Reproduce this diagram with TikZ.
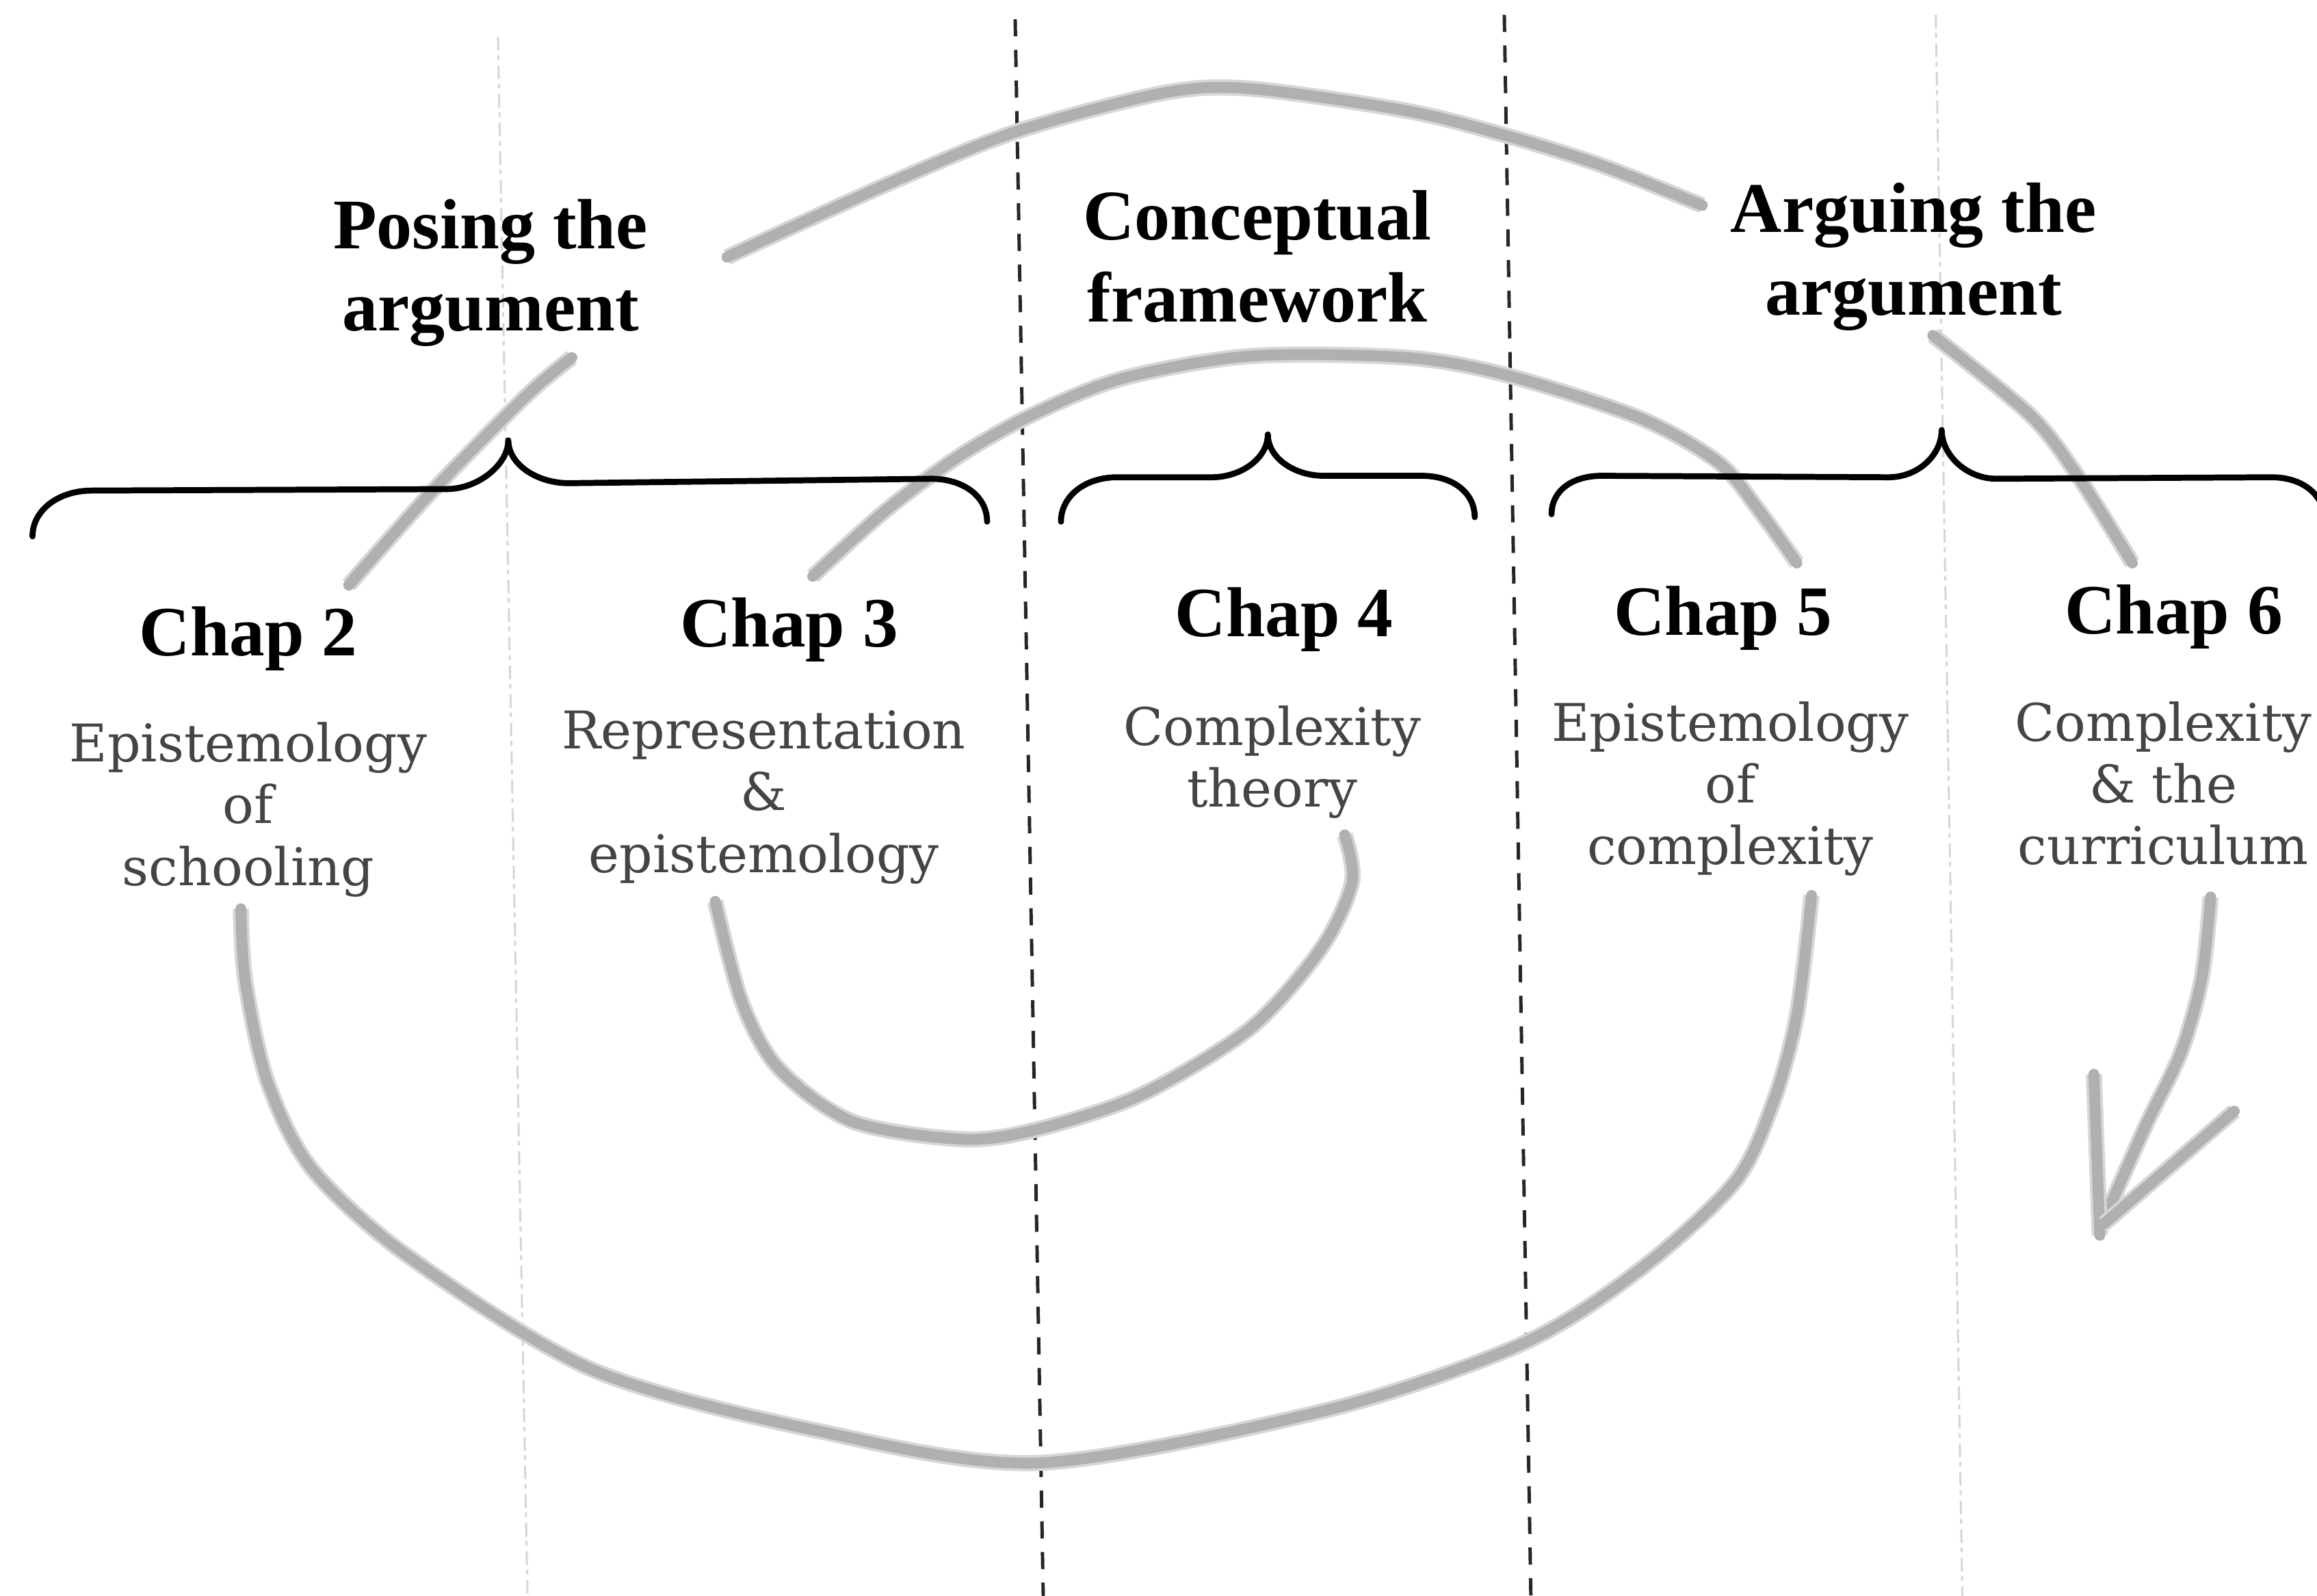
\documentclass[tikz,border=0pt]{standalone}
\usepackage{fontspec}
\setmainfont{DejaVu Serif}
\newfontfamily\headfont{Liberation Serif}

\definecolor{pencil}{RGB}{176,176,176}
\definecolor{pencilhaze}{RGB}{214,214,214}
\definecolor{bodyink}{RGB}{68,68,68}
\definecolor{guide}{RGB}{214,214,214}

\tikzset{
  heading/.style={font=\headfont\bfseries\fontsize{13.7}{15.9}\selectfont,
    align=center, anchor=north, inner sep=0pt},
  chaptitle/.style={font=\headfont\bfseries\fontsize{13.6}{16}\selectfont,
    anchor=north, inner sep=0pt},
  topic/.style={font=\fontsize{10}{11.9}\selectfont, text=bodyink,
    align=center, anchor=north, inner sep=0pt},
  bracket/.style={draw=black, line width=1.15pt, line cap=round, line join=round},
  divider/.style={draw=black!85, line width=0.65pt, dash pattern=on 3.3pt off 2.6pt},
  faintdivider/.style={draw=guide, line width=0.4pt,
    dash pattern=on 2.6pt off 0.9pt on 0.9pt off 1.1pt},
  trail/.style={draw=pencil, line width=2.1pt, line cap=round, line join=round,
    preaction={draw=pencilhaze, line width=3.1pt}},
}

\begin{document}
\begin{tikzpicture}[x=0.01cm, y=-0.01cm]
  \useasboundingbox (0,0) rectangle (1568,1080);
  \fill[white] (0,0) rectangle (1568,1080);
  \clip (0,0) rectangle (1568,1080);

  % column dividers
  \draw[faintdivider] (337,25) -- (357,1080);
  \draw[faintdivider] (1310,10) -- (1328,1080);
  \draw[divider] (687,13) -- (706,1080);
  \draw[divider] (1018,10) -- (1036,1080);

  % the spiral, from the centre outwards
  \draw[trail] plot[smooth] coordinates {(910,565) (915,597) (894,642) (846,696)
    (772,741) (703,764) (652,771) (577,759) (527,723) (502,678) (484,610)};
  \draw[trail] plot[smooth] coordinates {(550,390) (600,345) (650,308) (700,280)
    (760,256) (846,241) (952,242) (1020,254) (1110,283) (1163,313) (1190,345) (1216,381)};
  \draw[trail] plot[smooth] coordinates {(1226,606) (1216,687) (1200,746) (1174,800)
    (1110,859) (1031,909) (899,954) (703,990) (552,968) (401,927) (276,850)
    (211,791) (181,732) (166,664) (163,615)};
  \draw[trail] plot[smooth] coordinates {(236,396) (292,333) (356,268) (387,242)};
  \draw[trail] plot[smooth] coordinates {(492,174) (602,124) (688,89) (787,63)
    (846,60) (952,75) (1020,92) (1084,112) (1152,139)};
  \draw[trail] plot[smooth] coordinates {(1308,227) (1374,281) (1406,322) (1443,381)};
  \draw[trail] plot[smooth] coordinates {(1496,607) (1490,662) (1476,712) (1452,762) (1421,832)};
  \draw[trail] (1417,727) -- (1421,836);
  \draw[trail] (1512,752) -- (1424,828);

  % braces grouping the chapters
  \draw[bracket] (22,363) .. controls (22,345) and (40,332) .. (62,332)
    -- (302,331) .. controls (324,331) and (344,314) .. (344,298)
    .. controls (344,314) and (363,327) .. (385,327)
    -- (630,324) .. controls (652,324) and (668,336) .. (668,353);
  \draw[bracket] (718,353) .. controls (718,336) and (734,323) .. (756,323)
    -- (820,323) .. controls (840,323) and (858,310) .. (858,294)
    .. controls (858,310) and (876,322) .. (896,322)
    -- (962,322) .. controls (984,322) and (998,334) .. (998,350);
  \draw[bracket] (1050,348) .. controls (1050,332) and (1064,322) .. (1084,322)
    -- (1278,323) .. controls (1298,323) and (1314,308) .. (1314,291)
    .. controls (1314,308) and (1331,324) .. (1351,324)
    -- (1537,323) .. controls (1558,323) and (1572,334) .. (1574,352);

  % part headings
  \node[heading] (posing)  at (332,134) {Posing the\\argument};
  \node[heading] (concept) at (851,128) {Conceptual\\framework};
  \node[heading] (arguing) at (1295,123) {Arguing the\\argument};

  % chapters
  \node[chaptitle] (chap2) at (168,410) {Chap 2};
  \node[chaptitle] (chap3) at (534,404) {Chap 3};
  \node[chaptitle] (chap4) at (869,397) {Chap 4};
  \node[chaptitle] (chap5) at (1166,396) {Chap 5};
  \node[chaptitle] (chap6) at (1471,395) {Chap 6};

  \node[topic] (topic2) at (168,488) {Epistemology\\of\\schooling};
  \node[topic] (topic3) at (517,480) {Representation\\\&\\epistemology};
  \node[topic] (topic4) at (861,477) {Complexity\\theory};
  \node[topic] (topic5) at (1171,474) {Epistemology\\of\\complexity};
  \node[topic] (topic6) at (1464,474) {Complexity\\\& the\\curriculum};
\end{tikzpicture}
\end{document}
